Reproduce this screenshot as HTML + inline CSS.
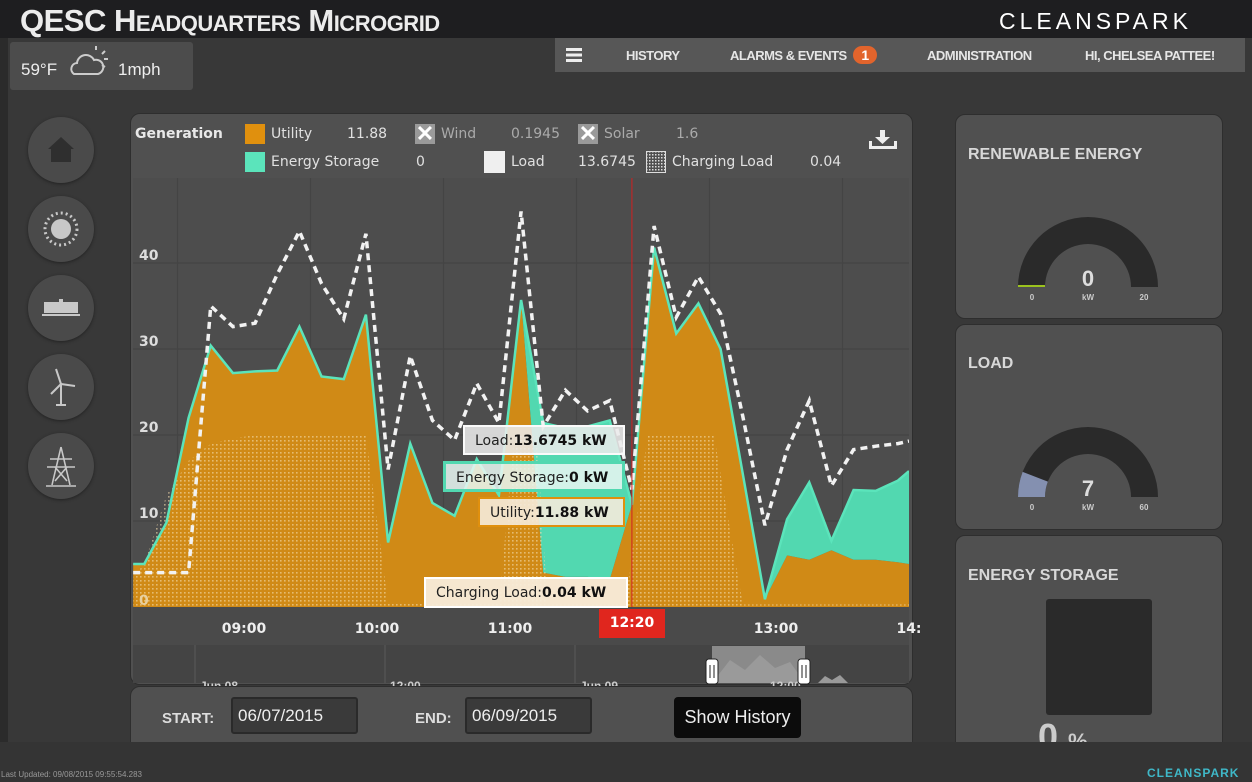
<!DOCTYPE html>
<html><head><meta charset="utf-8"><style>
*{box-sizing:border-box;margin:0;padding:0}
body{width:1252px;height:782px;overflow:hidden;background:#383838;font-family:"Liberation Sans",sans-serif;position:relative;color:#ddd}
.abs{position:absolute}
.circ{position:absolute;left:28px;width:66px;height:66px;border-radius:50%;background:#4a4a4a;box-shadow:0 1px 3px #222}
.nav span{position:absolute;top:10px;font-size:13px;font-weight:bold;color:#e6e6e6;letter-spacing:-0.5px}
.panel{position:absolute;background:#505050;border-radius:10px;border:1px solid #2e2e2e}
.ptitle{position:absolute;left:12px;font-size:16px;font-weight:bold;color:#d8d8d8}
.leg{position:absolute;font-family:"DejaVu Sans",sans-serif;font-size:14px;color:#e0e0e0}
.tip{position:absolute;font-family:"DejaVu Sans",sans-serif;font-size:14px;color:#222;padding:6px 10px;white-space:nowrap}
.tip b{font-weight:bold;color:#111}
</style></head><body>
<div class="abs" style="left:0;top:38px;width:8px;height:704px;background:#2b2b2b"></div>
<div class="abs" style="left:0;top:0;width:1252px;height:38px;background:#1e1e20"></div>
<div class="abs" style="left:20px;top:3px;font-size:31px;font-weight:bold;font-variant:small-caps;color:#ececec;letter-spacing:-0.5px">QESC Headquarters Microgrid</div>
<div class="abs" style="left:999px;top:8px;font-size:23px;color:#fff;letter-spacing:4px"><b style="font-weight:normal">CLEAN</b>SPARK</div>
<div class="abs" style="left:10px;top:42px;width:183px;height:48px;background:#4c4c4c;border-radius:3px">
 <span class="abs" style="left:11px;top:18px;font-size:17px;color:#eee">59°F</span>
 <svg class="abs" style="left:58px;top:2px" width="44" height="34"><path d="M6 30 a6 6 0 0 1 3-11 a9 9 0 0 1 17-3 a6 6 0 0 1 4 14 z" fill="none" stroke="#ccc" stroke-width="2"/><g stroke="#ccc" stroke-width="2"><line x1="28" y1="2" x2="28" y2="6"/><line x1="37" y1="7" x2="34" y2="10"/><line x1="40" y1="15" x2="36" y2="15"/><line x1="37" y1="23" x2="34" y2="21"/></g></svg>
 <span class="abs" style="left:108px;top:18px;font-size:17px;color:#eee">1mph</span>
</div>
<div class="abs nav" style="left:555px;top:38px;width:690px;height:34px;background:#575757">
 <svg class="abs" style="left:11px;top:10px" width="16" height="14"><rect y="0" width="16" height="3" fill="#eee"/><rect y="5.5" width="16" height="3" fill="#eee"/><rect y="11" width="16" height="3" fill="#eee"/></svg>
 <span style="left:71px">HISTORY</span>
 <span style="left:175px">ALARMS &amp; EVENTS</span>
 <span style="left:298px;top:8px;width:24px;height:18px;border-radius:9px;background:#e2642c;color:#fff;text-align:center;font-size:14px;line-height:18px">1</span>
 <span style="left:372px">ADMINISTRATION</span>
 <span style="left:530px">HI, CHELSEA PATTEE!</span>
</div>

<div class="circ" style="top:117px"><svg width="66" height="66"><path d="M33 20 L46 32 L43 32 L43 45 L23 45 L23 32 L20 32 Z" fill="#2f2f2f"/></svg></div>
<div class="circ" style="top:196px"><svg width="66" height="66"><circle cx="33" cy="33" r="10" fill="#c8c8c8"/><circle cx="33" cy="33" r="16" fill="none" stroke="#c8c8c8" stroke-width="3" stroke-dasharray="2 3"/></svg></div>
<div class="circ" style="top:275px"><svg width="66" height="66"><rect x="16" y="27" width="34" height="11" fill="#c8c8c8"/><rect x="14" y="39" width="38" height="2" fill="#c8c8c8"/><rect x="31" y="24" width="4" height="3" fill="#c8c8c8"/></svg></div>
<div class="circ" style="top:354px"><svg width="66" height="66"><g stroke="#c8c8c8" stroke-width="2" fill="none"><line x1="33" y1="30" x2="33" y2="50"/><line x1="33" y1="30" x2="28" y2="15"/><line x1="33" y1="30" x2="47" y2="32"/><line x1="33" y1="30" x2="23" y2="40"/><line x1="28" y1="51" x2="38" y2="51"/></g></svg></div>
<div class="circ" style="top:433px"><svg width="66" height="66"><g stroke="#c8c8c8" stroke-width="1.6" fill="none"><path d="M33 14 L24 52 M33 14 L42 52 M22 26 L44 26 M19 34 L47 34 M27 34 L39 48 M39 34 L27 48 M18 53 L48 53"/></g></svg></div>

<div class="panel" style="left:130px;top:113px;width:783px;height:572px;background:#505050"></div>
<div class="leg" style="left:135px;top:126px;font-weight:bold;color:#e8e8e8">Generation</div>
<div class="abs" style="left:245px;top:124px;width:20px;height:20px;background:#e0900e"></div>
<div class="leg" style="left:271px;top:126px">Utility<span style="position:absolute;left:76px">11.88</span></div>
<div class="abs" style="left:415px;top:124px;width:20px;height:20px;background:#9a9a9a;color:#fff;font-size:22px;line-height:20px;text-align:center;font-weight:bold">✕</div>
<div class="leg" style="left:441px;top:126px;color:#aaa">Wind<span style="position:absolute;left:70px">0.1945</span></div>
<div class="abs" style="left:578px;top:124px;width:20px;height:20px;background:#9a9a9a;color:#fff;font-size:22px;line-height:20px;text-align:center;font-weight:bold">✕</div>
<div class="leg" style="left:604px;top:126px;color:#aaa">Solar<span style="position:absolute;left:72px">1.6</span></div>
<div class="abs" style="left:245px;top:152px;width:20px;height:20px;background:#5be4bb"></div>
<div class="leg" style="left:271px;top:154px">Energy Storage<span style="position:absolute;left:145px">0</span></div>
<div class="abs" style="left:484px;top:151px;width:21px;height:22px;background:#efefef"></div>
<div class="leg" style="left:511px;top:154px">Load<span style="position:absolute;left:67px">13.6745</span></div>
<svg class="abs" style="left:646px;top:151px" width="20" height="22"><defs><pattern id="pg" width="3" height="3" patternUnits="userSpaceOnUse"><rect width="1.5" height="1.5" fill="#ddd"/></pattern></defs><rect x="0.5" y="0.5" width="19" height="21" fill="url(#pg)" stroke="#ddd"/></svg>
<div class="leg" style="left:672px;top:154px">Charging Load<span style="position:absolute;left:138px">0.04</span></div>
<svg class="abs" style="left:868px;top:128px" width="30" height="22"><g fill="#eee"><rect x="12" y="2" width="5" height="8"/><path d="M7 9 L22 9 L14.5 16 Z"/><rect x="1" y="18" width="28" height="3"/><rect x="1" y="13" width="3" height="6"/><rect x="26" y="13" width="3" height="6"/></g></svg>

<svg class="abs" id="chart" style="left:0;top:0" width="1252" height="782">
 <defs>
  <pattern id="dots" width="4" height="4" patternUnits="userSpaceOnUse"><rect width="1.6" height="1.6" fill="#f3dcae" opacity="0.6"/></pattern>
  <clipPath id="plotclip"><rect x="133" y="178" width="776" height="429"/></clipPath>
 </defs>
 <rect x="133" y="178" width="776" height="429" fill="#4d4d4d"/>
 <g id="grid"></g>
 <g id="marks" clip-path="url(#plotclip)"></g>
 <rect x="133" y="607" width="776" height="38" fill="#4a4a4a"/>
 <g id="axis"></g>
 <rect x="133" y="645" width="776" height="38" fill="#444"/>
 <g stroke="#5a5a5a"><line x1="195" y1="645" x2="195" y2="683"/><line x1="385" y1="645" x2="385" y2="683"/><line x1="575" y1="645" x2="575" y2="683"/></g>
 <rect x="712" y="646" width="93" height="37" fill="#8a8a8a"/>
 <path d="M712 683 L730 660 L745 670 L760 655 L775 668 L790 662 L805 683Z M818 683 L825 676 L832 680 L840 675 L848 683Z" fill="#9a9a9a"/>
 <g font-family="Liberation Sans" font-size="12" font-weight="bold" fill="#ccc"><text x="200" y="690">Jun 08</text><text x="390" y="690">12:00</text><text x="580" y="690">Jun 09</text><text x="770" y="690">12:00</text></g>
 <rect x="706" y="659" width="12" height="25" rx="3" fill="#fff" stroke="#222"/>
 <g stroke="#222"><line x1="710" y1="665" x2="710" y2="678"/><line x1="714" y1="665" x2="714" y2="678"/></g>
 <rect x="798" y="659" width="12" height="25" rx="3" fill="#fff" stroke="#222"/>
 <g stroke="#222"><line x1="802" y1="665" x2="802" y2="678"/><line x1="806" y1="665" x2="806" y2="678"/></g>
</svg>

<div class="tip" style="left:463px;top:425px;width:162px;height:30px;background:rgba(235,235,235,0.88);border:2px solid #fafafa">Load:<b>13.6745 kW</b></div>
<div class="tip" style="left:443px;top:461px;width:182px;height:31px;background:rgba(230,245,240,0.88);border:3px solid #52d8b0">Energy Storage:<b>0 kW</b></div>
<div class="tip" style="left:478px;top:497px;width:147px;height:30px;background:rgba(245,235,220,0.9);border:2px solid #e0900e">Utility:<b>11.88 kW</b></div>
<div class="tip" style="left:424px;top:577px;width:204px;height:31px;background:rgba(248,236,218,0.95);border:2px solid #fff">Charging Load:<b>0.04 kW</b></div>
<div class="abs" style="left:599px;top:609px;width:66px;height:29px;background:#e0261e;color:#fff;font-family:'DejaVu Sans',sans-serif;font-weight:bold;font-size:14px;text-align:center;line-height:29px">12:20</div>

<div class="panel" style="left:130px;top:686px;width:783px;height:70px"></div>
<div class="abs" style="left:162px;top:710px;font-size:15px;font-weight:bold;color:#ddd">START:</div>
<div class="abs" style="left:231px;top:697px;width:127px;height:37px;background:#3a3a3a;border:2px solid #2a2a2a;border-radius:3px;font-size:17px;color:#eee;padding:7px 5px">06/07/2015</div>
<div class="abs" style="left:415px;top:710px;font-size:15px;font-weight:bold;color:#ddd">END:</div>
<div class="abs" style="left:465px;top:697px;width:127px;height:37px;background:#3a3a3a;border:2px solid #2a2a2a;border-radius:3px;font-size:17px;color:#eee;padding:7px 5px">06/09/2015</div>
<div class="abs" style="left:674px;top:697px;width:127px;height:41px;background:#0c0c0c;border-radius:4px;font-size:18px;color:#eee;text-align:center;line-height:40px">Show History</div>

<div class="panel" style="left:955px;top:114px;width:268px;height:205px"><div class="ptitle" style="top:31px">RENEWABLE ENERGY</div></div>
<div class="panel" style="left:955px;top:324px;width:268px;height:206px"><div class="ptitle" style="top:30px">LOAD</div></div>
<div class="panel" style="left:955px;top:535px;width:268px;height:230px"><div class="ptitle" style="top:31px">ENERGY STORAGE</div>
 <div class="abs" style="left:90px;top:63px;width:106px;height:116px;background:#2a2a2a;border-radius:3px"></div>
 <div class="abs" style="left:82px;top:180px;font-size:36px;font-weight:bold;color:#ccc">0 <span style="font-size:22px">%</span></div>
</div>
<svg class="abs" style="left:0;top:0;pointer-events:none" width="1252" height="782" id="gauges"></svg>

<div class="abs" style="left:0;top:742px;width:1252px;height:40px;background:#343434"></div>
<div class="abs" style="left:1px;top:770px;font-size:8px;color:#999">Last Updated: 09/08/2015 09:55:54.283</div>
<div class="abs" style="left:1147px;top:766px;font-size:12px;font-weight:bold;color:#3fb8c8;letter-spacing:1px">CLEANSPARK</div>

<script>
var times = [490,495,505,515,525,535,545,555,565,575,585,595,605,615,625,635,645,655,665,675,685,695,705,715,725,735,745,755,765,775,785,795,805,815,825,835,840];
var utility = [5,5,9.8,22,30.4,27.2,27.4,27.5,32.6,26.8,26.5,34,7.5,19,12.1,10.6,17.2,13,35.7,4,3.5,3.5,3.2,11.88,41.8,31.8,35.3,30,15.5,0.9,6,5.5,6.6,5.5,5.5,5.2,5.0];
var storage = [0,0,0,0,0,0,0,0,0,0,0,0,0,0,0,0,0,0,0,17.4,17.3,17.5,18.5,0,0,0,0,0,0,0,4.2,9,1.1,8.1,8,9.5,10.8];
var load = [4,4,4,4,35,32.6,33,38.7,43.7,37.6,33.5,43.4,16,29.2,21.7,19.4,26,21.4,46,21,25.2,22.8,24,13.67,44.3,33.7,38.4,34.1,22.2,9.5,18.3,24,14.1,18.3,18.7,19,19.3];
var chargeTimes = [490,495,505,515,525,535,545,595,600,605,655,662,672,677,712,722,752,765,840];
var chargeLoad = [3.5,5,13,17,19,19.6,20,20,10,0.5,0.5,20,20,0.3,0.3,20,20,0.3,0.3];
var yTicks = [0,10,20,30,40];
var xTicks = [540,600,660,780,840];
var xTickLabels = ["09:00","10:00","11:00","13:00","14:"];
var gridTimes = [510,570,630,690,750,810];
var cursorTime = 715;
var renewable = {value:0,max:20};
var loadGauge = {value:7,max:60};

var NS="http://www.w3.org/2000/svg";
function X(t){return 244+(t-540)*133/60;}
function Y(v){return 607-v*8.6;}
function mk(tag,attrs,parent){var e=document.createElementNS(NS,tag);for(var k in attrs)e.setAttribute(k,attrs[k]);parent.appendChild(e);return e;}
var grid=document.getElementById('grid'),marks=document.getElementById('marks'),axis=document.getElementById('axis');
gridTimes.forEach(function(t){var l=mk('line',{x1:X(t),x2:X(t),y1:178,y2:607,stroke:'#444','stroke-width':1.2},grid);

});
yTicks.forEach(function(v){if(v>0){var l=mk('line',{x1:133,x2:909,y1:Y(v),y2:Y(v),stroke:'#444','stroke-width':1.2},grid);

}});
xTicks.forEach(function(t,i){var e=mk('text',{x:X(t),y:633,'text-anchor':'middle','font-family':'DejaVu Sans','font-size':14,'font-weight':'bold',fill:'#eee'},axis);e.textContent=xTickLabels[i];

});
function pts(ts,vs){return ts.map(function(t,i){return X(t)+','+Y(vs[i]);});}
var up=pts(times,utility);
var ua=mk('polygon',{points:X(times[0])+','+Y(0)+' '+up.join(' ')+' '+X(times[times.length-1])+','+Y(0),fill:'#d08a16'},marks);


var topv=utility.map(function(u,i){return u+storage[i];});
var tp=pts(times,topv);
var sa=mk('polygon',{points:tp.join(' ')+' '+up.slice().reverse().join(' '),fill:'#52d8b0'},marks);


var cp=pts(chargeTimes,chargeLoad);
var ca=mk('polygon',{points:X(chargeTimes[0])+','+Y(0)+' '+cp.join(' ')+' '+X(chargeTimes[chargeTimes.length-1])+','+Y(0),fill:'url(#dots)'},marks);


var sl=mk('polyline',{points:tp.join(' '),fill:'none',stroke:'#5be4bb','stroke-width':2.5},marks);


var ll=mk('polyline',{points:pts(times,load).join(' '),fill:'none',stroke:'#f2f2f2','stroke-width':3.5,'stroke-dasharray':'7 5'},marks);


var cl=mk('line',{x1:X(cursorTime),x2:X(cursorTime),y1:178,y2:607,stroke:'#d02020','stroke-width':1},marks);


yTicks.forEach(function(v){var t=mk('text',{x:139,y:Y(v)-(v===0?2:3),'font-family':'DejaVu Sans','font-size':14,'font-weight':'bold',fill:v===0?'#e8d0a0':'#ddd'},marks);t.textContent=v;

});
var g=document.getElementById('gauges');
function arc(cx,cy,r0,r1,a0,a1){function p(r,a){return [cx-r*Math.cos(a),cy-r*Math.sin(a)];}
var A=p(r1,a0),B=p(r1,a1),C=p(r0,a1),D=p(r0,a0);
return 'M'+A+' A'+r1+','+r1+' 0 0 1 '+B+' L'+C+' A'+r0+','+r0+' 0 0 0 '+D+'Z';}
function gauge(cx,cy,obj,color,name){
var bg=mk('path',{d:arc(cx,cy,43,70,0,Math.PI),fill:'#2a2a2a'},g);


var f=obj.value/obj.max*Math.PI;
if(f>0){var fg=mk('path',{d:arc(cx,cy,43,70,0,f),fill:color},g);

}
else{var z=mk('rect',{x:cx-70,y:cy-2,width:27,height:2,fill:'#9bc21e'},g);

}
var tv=mk('text',{x:cx,y:cy-1,'text-anchor':'middle','font-family':'Liberation Sans','font-size':22,'font-weight':'bold',fill:'#ddd'},g);tv.textContent=obj.value;


var labs=[[cx-56,'0'],[cx,'kW'],[cx+56,String(obj.max)]];
labs.forEach(function(l){var t=mk('text',{x:l[0],y:cy+13,'text-anchor':'middle','font-family':'Liberation Sans','font-size':8,'font-weight':'bold',fill:'#ccc'},g);t.textContent=l[1];

});}
gauge(1088,287,renewable,'#9bc21e','renewable');
gauge(1088,497,loadGauge,'#8490b0','load');
</script>
</body></html>
